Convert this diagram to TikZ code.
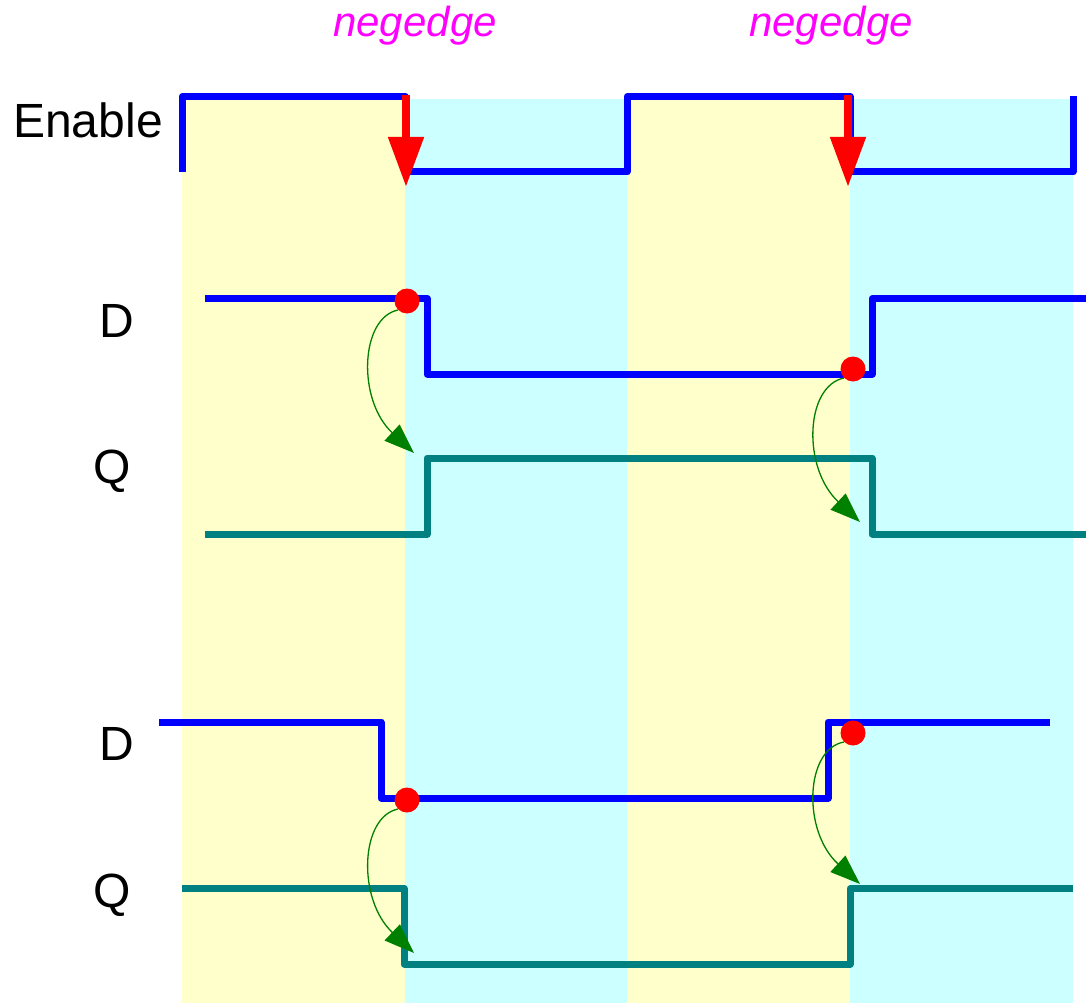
\documentclass[tikz,border=0pt]{standalone}
\usepackage{fontspec}
\setmainfont{Liberation Sans}
\usetikzlibrary{arrows.meta}
\definecolor{bandY}{HTML}{FFFFCC}
\definecolor{bandC}{HTML}{CCFFFF}
\definecolor{sigblue}{HTML}{0000FF}
\definecolor{sigteal}{HTML}{008080}
\definecolor{causegreen}{HTML}{008000}
\definecolor{edgemag}{HTML}{FF00FF}
\tikzset{
  wave/.style={line width=7pt, line join=round, line cap=butt},
  dwave/.style={wave, sigblue},
  qwave/.style={wave, sigteal},
  lbl/.style={anchor=base, inner sep=0pt, font=\fontsize{48}{56}\selectfont},
  edgelbl/.style={anchor=base, inner sep=0pt, text=edgemag, font=\fontsize{42}{50}\selectfont\itshape},
  dot/.style={circle, fill=red, minimum size=25pt, inner sep=0pt},
  negarrow/.style={red, line width=8pt, -{Triangle[width=34pt,length=50pt]}},
  cause/.style={causegreen, line width=1.3pt, -{Triangle[width=22pt,length=30pt]}}
}
\begin{document}
\begin{tikzpicture}[x=1pt,y=-1pt]
\useasboundingbox (0,0) rectangle (1086,1003);
% background bands
\fill[bandY] (182,99) rectangle (405,1003);
\fill[bandC] (405,99) rectangle (627,1003);
\fill[bandY] (627,99) rectangle (850,1003);
\fill[bandC] (850,99) rectangle (1073,1003);
% labels
\node[edgelbl] (ne1) at (415,37) {negedge};
\node[edgelbl] (ne2) at (831,37) {negedge};
\node[lbl] (len) at (88,138) {Enable};
\node[lbl] (ld1) at (117,337) {D};
\node[lbl] (lq1) at (112,483) {Q};
\node[lbl] (ld2) at (117,760) {D};
\node[lbl] (lq2) at (112,907) {Q};
% Enable
\draw[dwave] (182,172) -- (182,96.5) -- (405,96.5) -- (405,172) -- (627,172) -- (627,96.5) -- (850,96.5) -- (850,172) -- (1073,172) -- (1073,96);
% negedge arrows
\coordinate (a1s) at (406,95); \coordinate (a1e) at (406,187);
\coordinate (a2s) at (848,95); \coordinate (a2e) at (848,187);
\draw[negarrow] (a1s) -- (a1e);
\draw[negarrow] (a2s) -- (a2e);
% first D/Q
\draw[dwave] (205,298.5) -- (427,298.5) -- (427,374) -- (872,374) -- (872,298.5) -- (1086,298.5);
\draw[qwave] (205,534) -- (427,534) -- (427,458) -- (872,458) -- (872,534) -- (1086,534);
% second D/Q
\draw[dwave] (159,722) -- (381,722) -- (381,798) -- (828,798) -- (828,722) -- (1050,722);
\draw[qwave] (182,888.5) -- (404,888.5) -- (404,964) -- (850,964) -- (850,888.5) -- (1073,888.5);
% dots
\node[dot] (d1) at (407,301) {};
\node[dot] (d2) at (853,369) {};
\node[dot] (d3) at (407,800) {};
\node[dot] (d4) at (853,733) {};
% targets
\coordinate (t1) at (414,453);
\coordinate (t2) at (860,522);
\coordinate (t3) at (414,953);
\coordinate (t4) at (860,884);
\draw[cause] (d1.south west) .. controls (360,318) and (357,400) .. (t1);
\draw[cause] (d2.south west) .. controls (805,386) and (802,468) .. (t2);
\draw[cause] (d3.south west) .. controls (360,817) and (357,899) .. (t3);
\draw[cause] (d4.south west) .. controls (805,749) and (802,831) .. (t4);
\end{tikzpicture}
\end{document}
